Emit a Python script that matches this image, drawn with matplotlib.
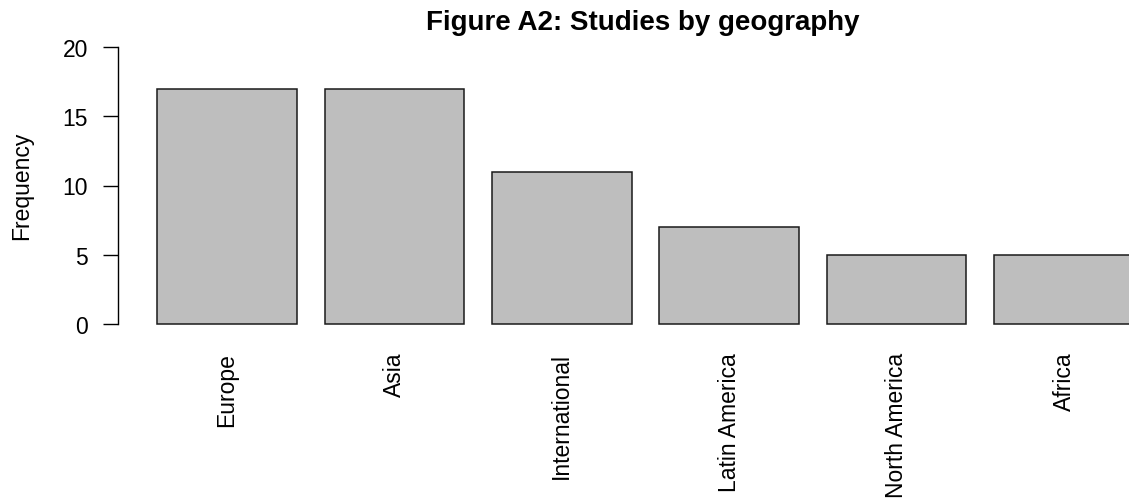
import numpy as np
import matplotlib
matplotlib.use('Agg')
import matplotlib.pyplot as plt

plt.rcParams['font.family'] = ['Liberation Sans', 'DejaVu Sans']

regions = ['Europe', 'Asia', 'International', 'Latin America', 'North America', 'Africa']
counts = [17, 17, 11, 7, 5, 5]

W, H = 1129, 502
fig = plt.figure(figsize=(W / 100, H / 100), dpi=100)
# axes placed in pixel terms to mimic R's base barplot layout
ax = fig.add_axes([118 / W, (H - 325) / H, 1 - 118 / W, (325 - 48) / H])

# R barplot: width 1, space 0.2
pos = 0.7 + 1.2 * np.arange(len(regions))
bars = ax.bar(pos, counts, width=1.0, color='#BEBEBE', edgecolor='#1a1a1a', linewidth=1.1)
for b in bars:
    b.set_clip_on(False)

ax.set_xlim(-0.0817, 7.166)
ax.set_ylim(0, 20)
for s in ['top', 'right', 'bottom']:
    ax.spines[s].set_visible(False)
ax.spines['left'].set_linewidth(1.0)

ax.set_yticks([0, 5, 10, 15, 20])
ax.tick_params(axis='y', length=10.8, width=1.0, pad=10.8, labelsize=16.5)
ax.set_xticks(pos)
ax.set_xticklabels(regions, rotation=90, ha='center', va='top')
ax.tick_params(axis='x', length=0, pad=20, labelsize=16.5)

fig.text(22 / W, 1 - 186 / H, 'Frequency', rotation=90, ha='center', va='center', fontsize=16.5)
fig.text(643 / W, 1 - 30 / H, 'Figure A2: Studies by geography', ha='center', va='baseline',
         fontsize=20, fontweight='bold')

fig.savefig('out.png', dpi=100)
plt.close()
